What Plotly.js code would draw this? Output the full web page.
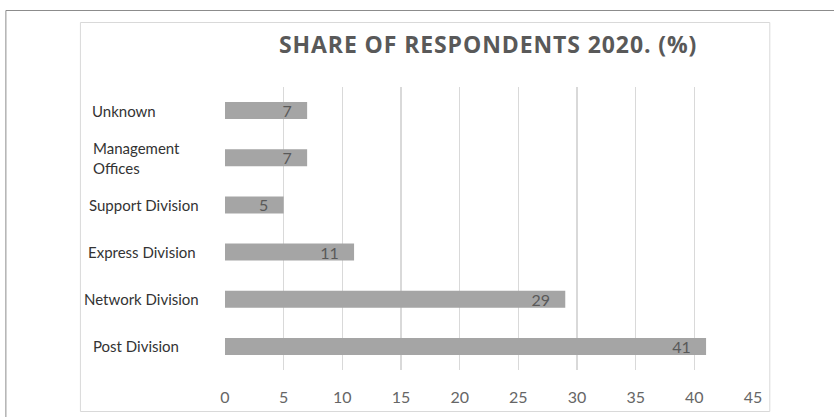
<!DOCTYPE html>
<html>
<head>
<meta charset="utf-8">
<script src="https://cdn.plot.ly/plotly-3.0.1.min.js"></script>
<style>
  html, body { margin: 0; padding: 0; background: #ffffff; }
  #chart { width: 834px; height: 417px; }
  #chart .gtitle { letter-spacing: 0.9px; }
</style>
</head>
<body>
<div id="chart"></div>
<script>
// ---- Data (bottom to top, as Plotly draws categories) ----
const categories = ['Post Division', 'Network Division', 'Express Division', 'Support Division', 'Management Offices', 'Unknown'];
const categoryLabels = ['Post Division', 'Network Division', 'Express Division', 'Support Division', 'Management<br>Offices', 'Unknown'];
const shares = [41, 29, 11, 5, 7, 7];
const xTickValues = [0, 5, 10, 15, 20, 25, 30, 35, 40, 45];
const chartTitle = 'SHARE OF RESPONDENTS 2020. (%)';

// ---- Layout geometry (pixels) ----
const W = 834, H = 417;
const plotLeft = 225, plotRight = 752.7, plotTop = 87, plotBottom = 370;
const pw = plotRight - plotLeft, ph = plotBottom - plotTop;
const px = v => (v - plotLeft) / pw;
const py = v => (plotBottom - v) / ph;
const labelLeftPx = [91, 82, 86, 87, 91, 90];

const annotations = categories.map((c, i) => ({
  xref: 'paper', yref: 'y',
  x: px(labelLeftPx[i]), y: c,
  xanchor: 'left', yanchor: 'middle', align: 'left',
  text: categoryLabels[i], showarrow: false,
  font: { family: 'Lato, "Open Sans", sans-serif', size: 15, color: '#333333' }
}));

const shapes = [
  // outer frame (top + left)
  { type: 'line', xref: 'paper', yref: 'paper', x0: px(6), x1: px(834), y0: py(10.5), y1: py(10.5), line: { color: '#8c8c8c', width: 1 } },
  { type: 'line', xref: 'paper', yref: 'paper', x0: px(6), x1: px(6), y0: py(10.5), y1: py(417), line: { color: '#8c8c8c', width: 1 } },
  // chart area box
  { type: 'rect', xref: 'paper', yref: 'paper', x0: px(80.5), x1: px(769.5), y0: py(22.5), y1: py(411.5), line: { color: '#d9d9d9', width: 1 }, fillcolor: 'rgba(0,0,0,0)', layer: 'below' }
];

const trace = {
  type: 'bar', orientation: 'h',
  x: shares, y: categories,
  marker: { color: '#a5a5a5', line: { width: 0 } },
  text: shares.map(v => v + '\u00a0\u00a0\u00a0'),
  textposition: 'inside', insidetextanchor: 'end',
  constraintext: 'none',
  textfont: { family: 'Lato, "Open Sans", sans-serif', size: 16, color: '#595959' },
  hoverinfo: 'none'
};

const layout = {
  width: W, height: H,
  margin: { l: plotLeft, r: W - plotRight, t: plotTop, b: H - plotBottom, pad: 0 },
  paper_bgcolor: '#ffffff', plot_bgcolor: '#ffffff',
  showlegend: false,
  bargap: 0.64,
  title: {
    text: '<b>' + chartTitle + '</b>',
    x: px(488), xref: 'paper', xanchor: 'center',
    y: 1 - 45 / H, yref: 'container', yanchor: 'middle',
    font: { family: '"Open Sans", sans-serif', size: 23, color: '#595959' }
  },
  xaxis: {
    range: [0, 45], tickvals: xTickValues, ticktext: xTickValues.map(String),
    showgrid: true, gridcolor: '#d9d9d9', gridwidth: 1.5,
    zeroline: false, showline: false,
    ticks: 'outside', ticklen: 13, tickcolor: 'rgba(0,0,0,0)',
    tickfont: { family: 'Lato, "Open Sans", sans-serif', size: 16, color: '#666666' },
    fixedrange: true
  },
  yaxis: {
    type: 'category', categoryorder: 'array', categoryarray: categories,
    showticklabels: false, showgrid: false, zeroline: false, showline: false, ticks: '',
    fixedrange: true
  },
  annotations: annotations,
  shapes: shapes
};

Plotly.newPlot('chart', [trace], layout, { staticPlot: true, displayModeBar: false });
</script>
</body>
</html>
